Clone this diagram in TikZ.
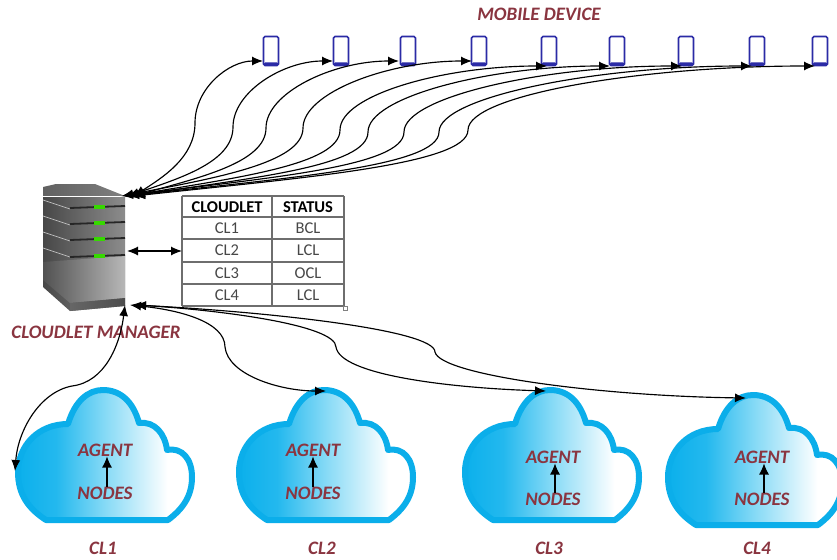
\documentclass[tikz,border=0pt]{standalone}
\usepackage{fontspec}
\setmainfont{Carlito}
\usetikzlibrary{arrows.meta,calc}
\definecolor{labelred}{HTML}{8A3540}
\definecolor{cloudedge}{HTML}{0BAEEA}
\definecolor{cloudA}{HTML}{0BB0EC}
\definecolor{cloudB}{HTML}{86DAF6}
\definecolor{phoneblue}{HTML}{2B2BA6}
\definecolor{gridgray}{HTML}{6E6E6E}
\pgfdeclarehorizontalshading{cloudshade}{100bp}{color(0bp)=(cloudA);color(25bp)=(cloudA);color(36bp)=(cloudA!80!cloudB);color(50bp)=(cloudB);color(68bp)=(white);color(100bp)=(white)}
\tikzset{
  lbl/.style={font=\bfseries\itshape\fontsize{19}{19}\selectfont,text=labelred,inner sep=0pt},
  link/.style={black,line width=1.15pt,{Latex[length=11pt,width=9pt]}-{Latex[length=11pt,width=9pt]}},
  uparrow/.style={black,line width=1.1pt,-{Latex[length=11pt,width=10pt]}},
  phone/.style={draw=phoneblue,line width=1.7pt,rounded corners=1.5pt,minimum width=15pt,minimum height=29pt,inner sep=0pt,fill=white,
    path picture={\fill[phoneblue] (path picture bounding box.south west) rectangle ([yshift=3pt]path picture bounding box.south east);}},
  cell/.style={font=\fontsize{16.5}{16.5}\selectfont,text=black!72,inner sep=0pt},
  head/.style={font=\bfseries\fontsize{16.5}{16.5}\selectfont,text=black,inner sep=0pt},
  grid/.style={gridgray,line width=1.2pt},
  cloudbody/.style={draw=cloudedge,line width=6pt,line join=round,shading=cloudshade,shading angle=0},
  slot/.style={black!85,line width=1.8pt},
  led/.style={fill=green!75!yellow!85!black,draw=none},
}
\newcommand{\cloudat}[3]{%
  \begin{scope}[shift={(#1,#2)}]
    \path[cloudbody] (46,520) -- (168,520)
      .. controls (184,508) and (192,495) .. (192,477)
      .. controls (192,459) and (182,447) .. (167,450)
      .. controls (165,434) and (155,421) .. (139,423)
      .. controls (133,401) and (120,390) .. (103,390)
      .. controls (88,390) and (75,401) .. (68,424)
      .. controls (38,424) and (18,446) .. (18,472)
      .. controls (18,495) and (29,509) .. (46,520) -- cycle;
  \end{scope}}
\begin{document}
\begin{tikzpicture}[x=1pt,y=-1pt]
\clip (0,0) rectangle (837,559);
\fill[white] (0,0) rectangle (837,559);

% server
\shade[left color=black!62,right color=black!50] (43,197) -- (43,187) -- (56,184) -- (95,184) -- (125,196) -- cycle;
\shade[left color=black!72,right color=black!45] (43,197) -- (125,197) -- (125,306) -- (70,311) -- (43,287) -- cycle;
\shade[left color=black!68,right color=black!28] (43,262) -- (125,256) -- (125,298) -- (70,303) -- (43,280) -- cycle;
\shade[left color=black!60,right color=black!70] (70,303) -- (125,298) -- (125,306) -- (70,311) -- cycle;
\draw[white,line width=1pt] (43,196) -- (121,196);
\foreach \yy in {200,216,232,248}{\draw[black!25,line width=.7pt] (43,\yy) -- (70,\yy+9);}
\foreach \yy in {207,223,239,256}{
  \draw[slot] (70,\yy+1) -- (125,\yy-1);
  \fill[led] (94,\yy-2.5) rectangle (105,\yy+2);
}
\coordinate (srvA) at (122,196);
\coordinate (srvB) at (128,196);
\coordinate (srvC) at (134,196);
\coordinate (srvM) at (127,251);
\coordinate (srvD) at (125,305);
\coordinate (srvE) at (130,305);
\coordinate (srvF) at (135,305);

% table
\foreach \yy in {196,217,239,262,284,306}{\draw[grid] (182,\yy) -- (344,\yy);}
\foreach \xx in {182,272,344}{\draw[grid] (\xx,196) -- (\xx,306);}
\draw[black!50,line width=.5pt,fill=white] (343,306) rectangle (347,310);
\node[head] (h1) at (227,207) {CLOUDLET};
\node[head] (h2) at (308,207) {STATUS};
\node[cell] (c1) at (227,228) {CL1};
\node[cell] (s1) at (308,228) {BCL};
\node[cell] (c2) at (227,250.5) {CL2};
\node[cell] (s2) at (308,250.5) {LCL};
\node[cell] (c3) at (227,273) {CL3};
\node[cell] (s3) at (308,273) {OCL};
\node[cell] (c4) at (227,295) {CL4};
\node[cell] (s4) at (308,295) {LCL};
\coordinate (tblW) at (182,251);
\draw[link] (srvM) -- (tblW);

% phones
\foreach \i/\px in {1/271,2/341,3/408,4/479,5/549,6/617,7/686,8/757,9/820}{
  \node[phone] (p\i) at (\px,51) {};
}
\node[lbl] (mobile) at (539,14) {MOBILE DEVICE};

% curves server <-> phones
\foreach \i/\mx/\my/\sname/\ex/\ey in {
  1/195/123/srvC/263/61,
  2/233/127/srvB/333/61,
  3/266/128/srvC/399/61,
  4/303/128/srvA/472/61,
  5/340/130/srvB/547/66,
  6/368/132/srvC/610/66,
  7/404/132/srvA/682/66,
  8/439/132/srvB/752/66,
  9/468/130/srvC/815/66}{
  \coordinate (e\i) at (\ex,\ey);
  \pgfmathsetmacro{\ca}{128+0.5*(\mx-128)}
  \pgfmathsetmacro{\cb}{\my+35}
  \pgfmathsetmacro{\cc}{\my-35}
  \pgfmathsetmacro{\cd}{\mx+0.5*(\ex-\mx)}
  \draw[link] (\sname) .. controls (\ca,178) and (\mx,\cb) .. (\mx,\my)
     .. controls (\mx,\cc) and (\cd,\ey) .. (e\i);
}

% clouds
\cloudat{0}{0}{1}
\cloudat{221}{0}{2}
\cloudat{447}{0}{3}
\cloudat{650}{5}{4}

\node[lbl] (a1) at (105,450) {AGENT};
\node[lbl] (n1) at (105,493) {NODES};
\node[lbl] (a2) at (313,450) {AGENT};
\node[lbl] (n2) at (313,493) {NODES};
\node[lbl] (a3) at (553,457) {AGENT};
\node[lbl] (n3) at (553,499) {NODES};
\node[lbl] (a4) at (762,457) {AGENT};
\node[lbl] (n4) at (762,499) {NODES};
\node[lbl] (l1) at (103,548) {CL1};
\node[lbl] (l2) at (322,548) {CL2};
\node[lbl] (l3) at (549,548) {CL3};
\node[lbl] (l4) at (757,548) {CL4};
\node[lbl] (mgr) at (96,332) {CLOUDLET MANAGER};

\draw[uparrow] (n1.north -| 107,0) -- (a1.south -| 107,0);
\draw[uparrow] (n2.north -| 313,0) -- (a2.south -| 313,0);
\draw[uparrow] (n3.north -| 555,0) -- (a3.south -| 555,0);
\draw[uparrow] (n4.north -| 764,0) -- (a4.south -| 764,0);

% curves server <-> clouds
\coordinate (t1) at (15,471);
\coordinate (t2) at (326,391);
\coordinate (t3) at (546,391);
\coordinate (t4) at (746,398);
\draw[link] (srvD) .. controls (120,345) and (105,382) .. (72,386)
   .. controls (40,392) and (18,430) .. (t1);
\draw[link] (srvE) .. controls (180,310) and (225,322) .. (225,347)
   .. controls (228,375) and (280,391) .. (t2);
\draw[link] (srvF) .. controls (220,310) and (336,325) .. (336,347)
   .. controls (340,375) and (450,388) .. (t3);
\draw[link] (srvF) .. controls (270,312) and (435,330) .. (435,352)
   .. controls (440,375) and (600,396) .. (t4);
\end{tikzpicture}
\end{document}
